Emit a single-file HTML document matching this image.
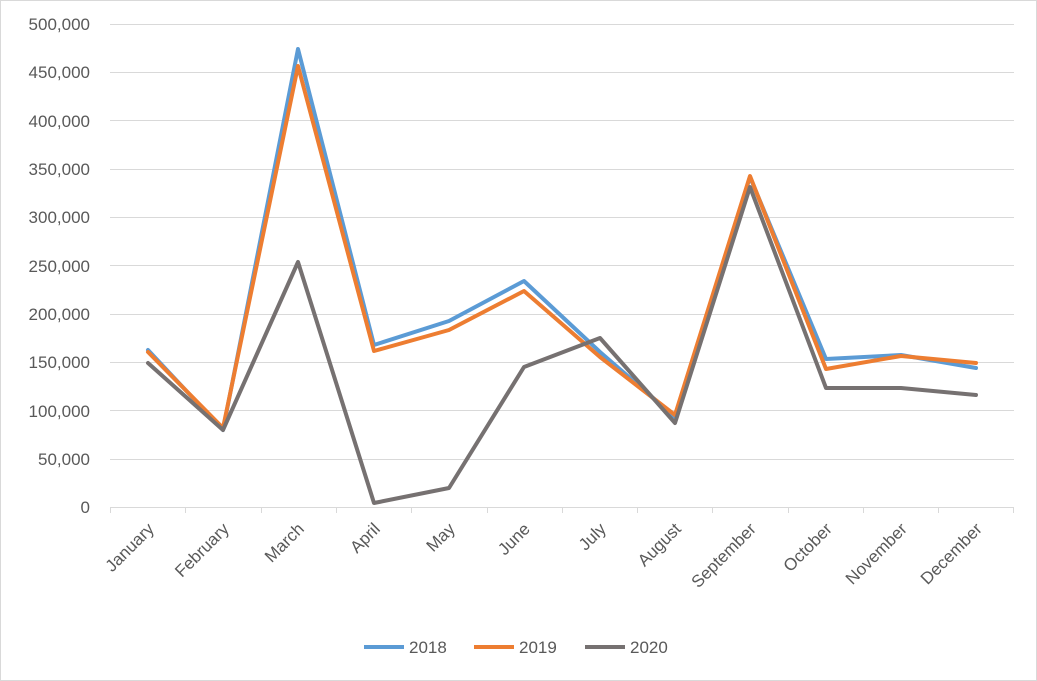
<!DOCTYPE html>
<html><head><meta charset="utf-8"><style>
html,body{margin:0;padding:0;background:#fff;}
svg{display:block;}
text{font-family:"Liberation Sans",sans-serif;font-size:17px;fill:#595959;}
</style></head><body>
<svg width="1037" height="681" viewBox="0 0 1037 681">
<rect x="0.5" y="0.5" width="1036" height="680" fill="#fff" stroke="#d9d9d9"/>
<g stroke="#d9d9d9" stroke-width="1">
<line x1="110" y1="24.5" x2="1014" y2="24.5"/>
<line x1="110" y1="72.5" x2="1014" y2="72.5"/>
<line x1="110" y1="120.5" x2="1014" y2="120.5"/>
<line x1="110" y1="169.5" x2="1014" y2="169.5"/>
<line x1="110" y1="217.5" x2="1014" y2="217.5"/>
<line x1="110" y1="265.5" x2="1014" y2="265.5"/>
<line x1="110" y1="314.5" x2="1014" y2="314.5"/>
<line x1="110" y1="362.5" x2="1014" y2="362.5"/>
<line x1="110" y1="410.5" x2="1014" y2="410.5"/>
<line x1="110" y1="459.5" x2="1014" y2="459.5"/>
<line x1="110" y1="507.5" x2="1014" y2="507.5"/>
<line x1="110.5" y1="507" x2="110.5" y2="513"/>
<line x1="185.5" y1="507" x2="185.5" y2="513"/>
<line x1="261.5" y1="507" x2="261.5" y2="513"/>
<line x1="336.5" y1="507" x2="336.5" y2="513"/>
<line x1="411.5" y1="507" x2="411.5" y2="513"/>
<line x1="487.5" y1="507" x2="487.5" y2="513"/>
<line x1="562.5" y1="507" x2="562.5" y2="513"/>
<line x1="637.5" y1="507" x2="637.5" y2="513"/>
<line x1="712.5" y1="507" x2="712.5" y2="513"/>
<line x1="788.5" y1="507" x2="788.5" y2="513"/>
<line x1="863.5" y1="507" x2="863.5" y2="513"/>
<line x1="938.5" y1="507" x2="938.5" y2="513"/>
<line x1="1013.5" y1="507" x2="1013.5" y2="513"/>
</g>
<g text-anchor="end">
<text x="90" y="30">500,000</text>
<text x="90" y="78">450,000</text>
<text x="90" y="127">400,000</text>
<text x="90" y="175">350,000</text>
<text x="90" y="223">300,000</text>
<text x="90" y="272">250,000</text>
<text x="90" y="320">200,000</text>
<text x="90" y="368">150,000</text>
<text x="90" y="417">100,000</text>
<text x="90" y="465">50,000</text>
<text x="90" y="513">0</text>
</g>
<g text-anchor="end">
<text transform="translate(155,530) rotate(-45)">January</text>
<text transform="translate(230,530) rotate(-45)">February</text>
<text transform="translate(305,530) rotate(-45)">March</text>
<text transform="translate(381,530) rotate(-45)">April</text>
<text transform="translate(456,530) rotate(-45)">May</text>
<text transform="translate(531,530) rotate(-45)">June</text>
<text transform="translate(607,530) rotate(-45)">July</text>
<text transform="translate(682,530) rotate(-45)">August</text>
<text transform="translate(757,530) rotate(-45)">September</text>
<text transform="translate(833,530) rotate(-45)">October</text>
<text transform="translate(908,530) rotate(-45)">November</text>
<text transform="translate(983,530) rotate(-45)">December</text>
</g>
<g fill="none" stroke-width="4" stroke-linejoin="round" stroke-linecap="round">
<polyline stroke="#5b9bd5" points="148,350 223,430 298,49 374,345 449,321 524,281 600,352 675,417 750,177 826,359 901,355 976,368"/>
<polyline stroke="#ed7d31" points="148,352 223,428 298,66 374,351 449,330 524,291 600,357 675,415 750,176 826,369 901,356 976,363"/>
<polyline stroke="#767171" points="148,363 223,430 298,262 374,503 449,488 524,367 600,338 675,423 750,187 826,388 901,388 976,395"/>
</g>
<g stroke-width="4">
<line x1="364" y1="647" x2="404" y2="647" stroke="#5b9bd5"/>
<line x1="474" y1="647" x2="514" y2="647" stroke="#ed7d31"/>
<line x1="585" y1="647" x2="625" y2="647" stroke="#767171"/>
</g>
<text x="409" y="653">2018</text>
<text x="519" y="653">2019</text>
<text x="630" y="653">2020</text>
</svg>
</body></html>
